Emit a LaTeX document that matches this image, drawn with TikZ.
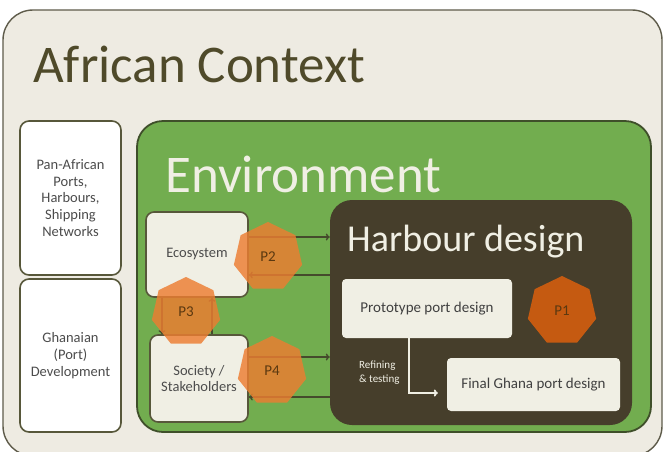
\documentclass[tikz,border=0pt]{standalone}
\usepackage{fontspec}
\setmainfont{Carlito}
\usetikzlibrary{shapes.geometric,arrows.meta}
\definecolor{ctxfill}{HTML}{EEEBE2}
\definecolor{ctxline}{HTML}{5E5B4A}
\definecolor{titlec}{HTML}{4F4A2A}
\definecolor{boxline}{HTML}{57573A}
\definecolor{envfill}{HTML}{72AD4F}
\definecolor{envline}{HTML}{3F4F2A}
\definecolor{hdfill}{HTML}{463E2B}
\definecolor{lightc}{HTML}{F0EFE4}
\definecolor{porange}{HTML}{ED7D31}
\definecolor{pdark}{HTML}{C55A11}
\definecolor{ptext}{HTML}{5A3810}
\definecolor{arrowc}{HTML}{454A2C}
\begin{document}
\begin{tikzpicture}
  [x=1pt,y=-1pt,every node/.style={inner sep=0pt,font=\fontsize{14.5}{16.7}\selectfont,text=black!70},
   box/.style={draw=boxline,line width=1.6pt,rounded corners=9pt,fill=white,align=center},
   pbox/.style={fill=lightc,rounded corners=4pt,text=black!75,font=\fontsize{15}{18}\selectfont},
   hepta/.style={regular polygon,regular polygon sides=7,minimum size=70pt,fill=porange,fill opacity=0.82,text opacity=1,text=ptext,font=\fontsize{15}{18}\selectfont},
   link/.style={draw=arrowc,line width=1.4pt,-{To[length=4pt,width=7pt]}}]
    \useasboundingbox (0,0) rectangle (665,451);
    \clip (0,0) rectangle (665,451);

    \node (ctx) [draw=ctxline,line width=1.4pt,fill=ctxfill,rounded corners=30pt,minimum width=659pt,minimum height=446pt] at (332.5,233) {};
    \node (ctxt)[anchor=base west,text=titlec,font=\fontsize{53}{60}\selectfont] at (33,82) {African Context};

    \node (pan) [box,minimum width=101pt,minimum height=154pt] at (70.5,198)   {Pan-African\\Ports,\\Harbours,\\Shipping\\Networks};
    \node (gha) [box,minimum width=101pt,minimum height=153pt] at (70.5,355.5) {Ghanaian\\(Port)\\Development};

    \node (env) [draw=envline,line width=1.8pt,fill=envfill,rounded corners=26pt,minimum width=514pt,minimum height=311pt] at (394,276.5) {};
    \node (envt)[anchor=base west,text=lightc,font=\fontsize{53}{60}\selectfont] at (165,192) {Environment};

    \node (hd)  [fill=hdfill,rounded corners=22pt,minimum width=302pt,minimum height=225pt] at (481,312.5) {};
    \node (hdt) [anchor=base west,text=lightc,font=\fontsize{38}{44}\selectfont] at (347,251) {Harbour design};

    \node (eco) [box,rounded corners=8pt,fill=lightc,minimum width=102pt,minimum height=85pt] at (197,254.5) {Ecosystem};
    \node (soc) [box,rounded corners=8pt,fill=lightc,minimum width=98pt,minimum height=87pt]  at (199,378.5) {Society /\\Stakeholders};

    \node (proto)[pbox,minimum width=170pt,minimum height=59pt] at (427,308.5) {Prototype port design};
    \node (fin)  [pbox,minimum width=173pt,minimum height=53pt] at (533.5,384.5) {Final Ghana port design};

    % links between the environment and the design
    \foreach \from/\dy in {eco/17.5,soc/21.5}
      \draw[link] ([yshift=\dy pt]\from.east) -- ([yshift=\dy pt]\from.east -| hd.west);
    \foreach \from/\dy in {eco/-20.5,soc/-18.5}
      \draw[link] ([yshift=\dy pt]\from.east -| hd.west) -- ([yshift=\dy pt]\from.east);
    \draw[link] ([xshift=-35pt]eco.south) -- ([xshift=-35pt]eco.south |- soc.north);
    \draw[link] ([xshift=15pt]eco.south |- soc.north) -- ([xshift=15pt]eco.south);

    \draw[draw=lightc,line width=1.8pt,-{To[length=4pt,width=7pt]}] ([xshift=-18pt]proto.south) |- ([xshift=-9pt,yshift=-8.5pt]fin.west);
    \node (ref) [anchor=west,align=left,text=lightc,font=\fontsize{11}{14}\selectfont] at (359,373) {Refining\\\& testing};

    \node (p1) [hepta,fill=pdark,fill opacity=1] at (562,311) {P1};
    \node (p2) [hepta] at (268,257) {P2};
    \node (p3) [hepta] at (186,312) {P3};
    \node (p4) [hepta] at (272,371) {P4};
  \end{tikzpicture}
\end{document}
